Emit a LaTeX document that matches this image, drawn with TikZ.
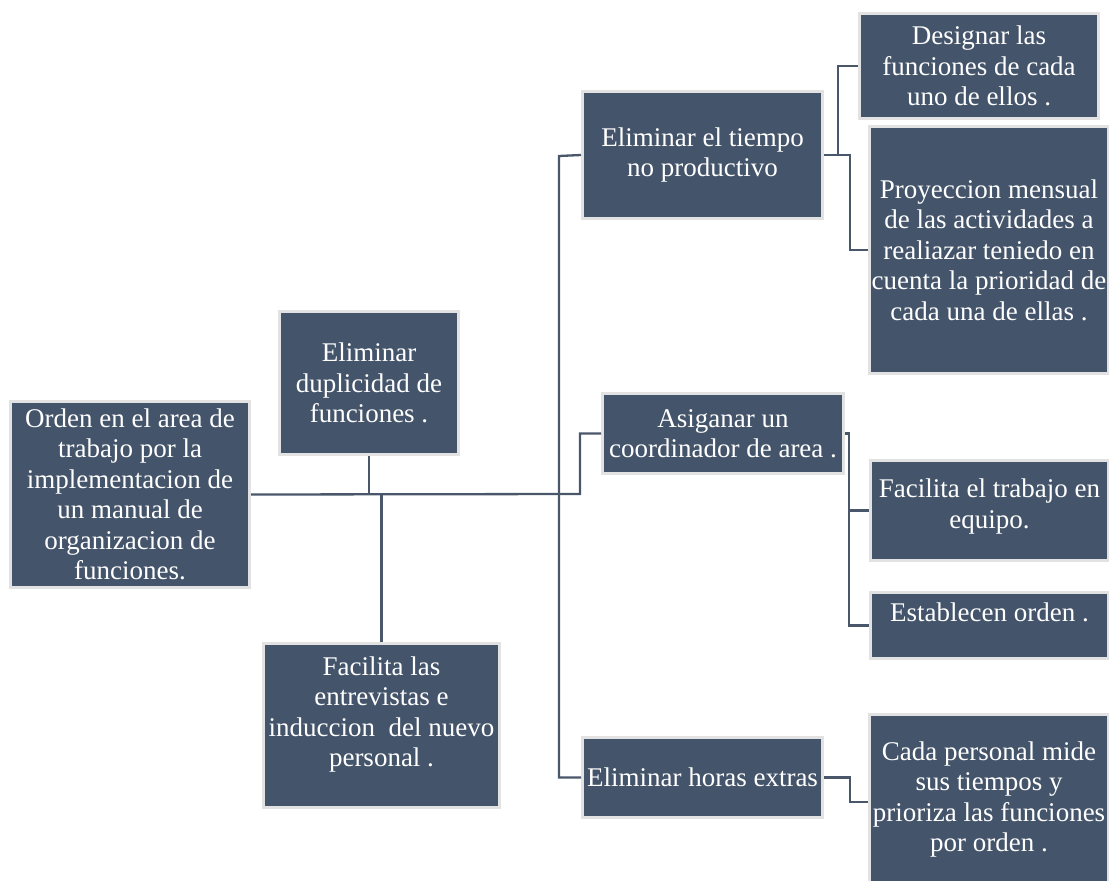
\documentclass[tikz,border=0pt]{standalone}
\usepackage{fontspec}
\setmainfont{Liberation Serif}
\definecolor{boxfill}{HTML}{44546A}
\definecolor{boxrim}{HTML}{E2E2E2}
\definecolor{wire}{HTML}{4A566A}
\tikzset{
  box/.style={draw=boxrim, line width=3pt, fill=boxfill, inner sep=0pt, minimum width=#1+3pt},
  box/.default=236pt,
  txt/.style={text=white, align=center, inner sep=0pt,
    font=\fontsize{27}{30.5}\selectfont},
  wirepath/.style={draw=wire, line width=2.3pt}
}
\begin{document}
\begin{tikzpicture}[x=1pt, y=-1pt]
\useasboundingbox (0,0) rectangle (1109,881);

% boxes
\node[box=236pt, minimum height=186pt] (root)   at (130,494.5) {};
\node[box=176pt, minimum height=143pt] (dup)    at (369,383)   {};
\node[box=237pt, minimum height=127pt] (tiempo) at (702.5,155) {};
\node[box=236pt, minimum height=105pt] (desig)  at (979,66)    {};
\node[box=236pt, minimum height=247pt] (proy)   at (989,250)   {};
\node[box=238pt, minimum height=80pt]  (asig)   at (723,433.5) {};
\node[box=235pt, minimum height=100pt] (trab)   at (989.5,510.5) {};
\node[box=235pt, minimum height=66pt]  (est)    at (989.5,625.5) {};
\node[box=237pt, minimum height=80pt]  (horas)  at (702.5,777.5) {};
\node[box=236pt, minimum height=175pt] (cada)   at (989,802)   {};
\node[box=233pt, minimum height=164pt] (fac)    at (381.5,725.5) {};

% texts
\node[txt] (root-t)   at (root.center)   {Orden en el area de\\trabajo por la\\implementacion de\\un manual de\\organizacion de\\funciones.};
\node[txt] (dup-t)    at (dup.center)    {Eliminar\\duplicidad de\\funciones .};
\node[txt] (tiempo-t) at (tiempo.center) {Eliminar el tiempo\\no productivo};
\node[txt] (desig-t)  at (desig.center)  {Designar las\\funciones de cada\\uno de ellos .};
\node[txt] (proy-t)   at (proy.center)   {Proyeccion mensual\\de las actividades a\\realiazar teniedo en\\cuenta la prioridad de\\cada una de ellas .};
\node[txt] (asig-t)   at (asig.center)   {Asiganar un\\coordinador de area .};
\node[txt] (trab-t)   at ([yshift=4pt]trab.center) {Facilita el trabajo en\\equipo.};
\node[txt] (est-t)    at (989.5,612)     {Establecen orden .};
\node[txt] (horas-t)  at (horas.center)  {Eliminar horas extras};
\node[txt] (cada-t)   at ([yshift=2.5pt]cada.center) {Cada personal mide\\sus tiempos y\\prioriza las funciones\\por orden .};
\node[txt] (fac-t)    at ([yshift=11pt]fac.center) {Facilita las\\entrevistas e\\induccion~ del nuevo\\personal .};

% junction points
\coordinate (jA) at (580,494);
\coordinate (jT) at (559,156);

% connectors
\draw[wirepath] (root.east) -- (jA) |- (asig.west);
\draw[wirepath] (dup.south) -- (dup.south |- jA);
\draw[wirepath] (fac.north) -- (fac.north |- jA);
\draw[wirepath] (tiempo.west) -- (jT) |- (horas.west);
\draw[wirepath] (tiempo.east) -- ++(14,0) |- (desig.west);
\draw[wirepath] (tiempo.east) -- ++(26,0) |- (proy.west);
\draw[wirepath] (asig.east) -- ++(4,0) |- (trab.west);
\draw[wirepath] (asig.east) -- ++(4,0) |- (est.west);
\draw[wirepath] (horas.east) -- ++(26,0) |- (cada.west);
\end{tikzpicture}
\end{document}
